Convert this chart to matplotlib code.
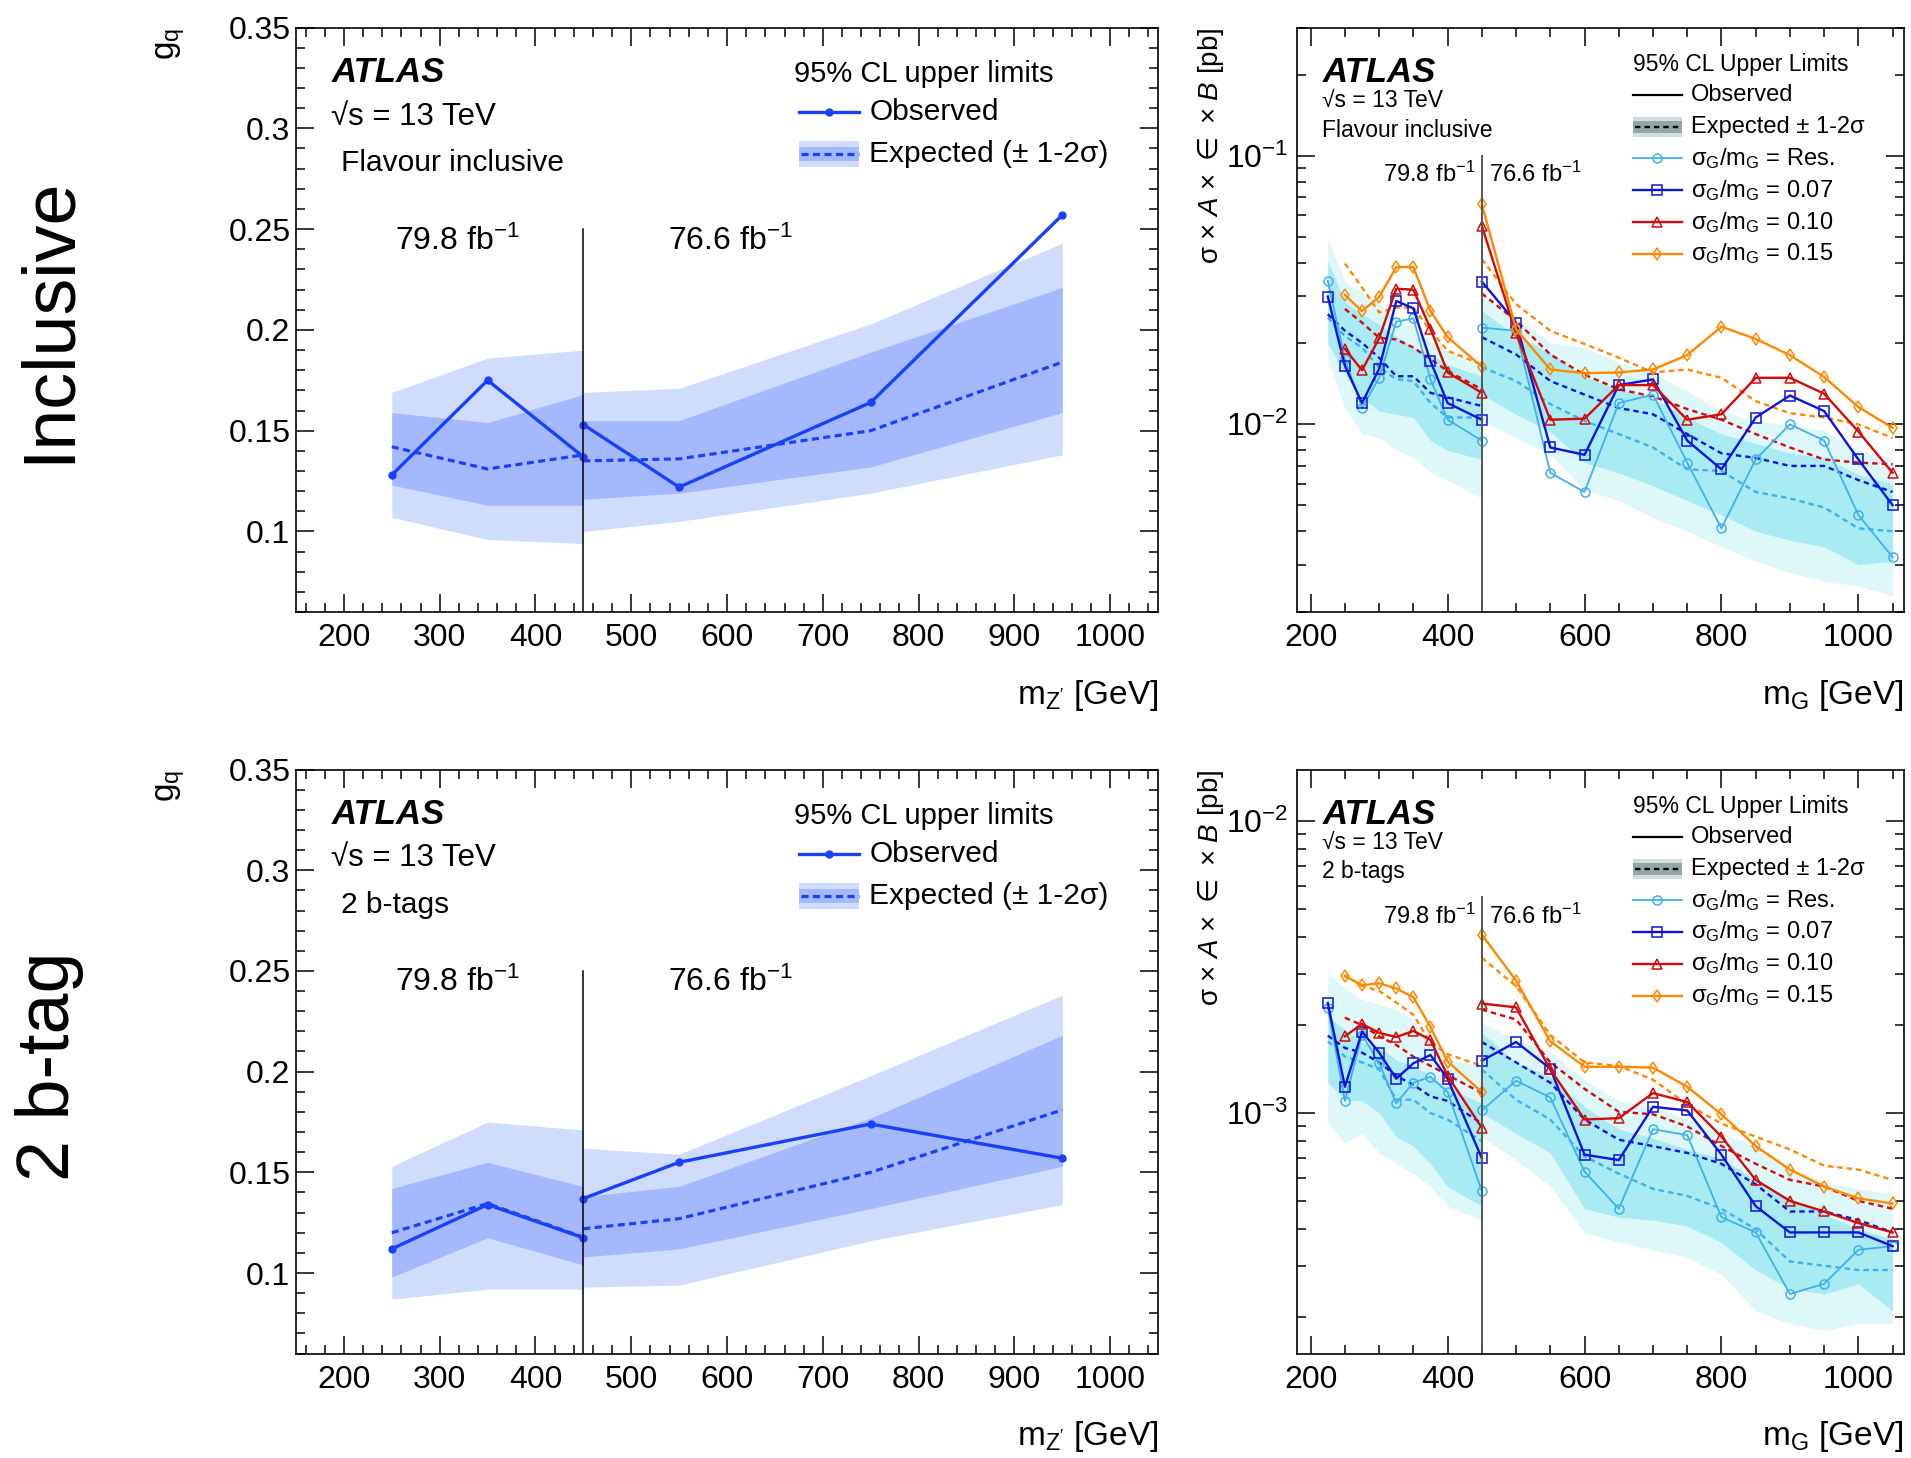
import matplotlib
matplotlib.use('Agg')
import matplotlib.pyplot as plt
from matplotlib.lines import Line2D
from matplotlib.patches import Rectangle
from matplotlib.ticker import MultipleLocator, LogLocator, NullFormatter, FuncFormatter

plt.rcParams['font.family'] = ['Liberation Sans', 'DejaVu Sans']
plt.rcParams['mathtext.fontset'] = 'custom'
plt.rcParams['mathtext.rm'] = 'Liberation Sans'
plt.rcParams['mathtext.it'] = 'Liberation Sans:italic'
plt.rcParams['mathtext.bf'] = 'Liberation Sans:bold'
plt.rcParams['mathtext.sf'] = 'DejaVu Sans'

# ---------------- Z' coupling limits (left column) ----------------
zq_x_lo = [250, 350, 450]
zq_x_hi = [450, 550, 750, 950]

# flavour inclusive
incl_obs_lo = [0.128, 0.175, 0.137]
incl_obs_hi = [0.153, 0.122, 0.164, 0.257]
incl_exp_lo = [0.142, 0.131, 0.138]
incl_exp_hi = [0.135, 0.136, 0.150, 0.184]
incl_m2_lo = [0.107, 0.096, 0.094]
incl_m1_lo = [0.123, 0.113, 0.113]
incl_p1_lo = [0.159, 0.154, 0.168]
incl_p2_lo = [0.169, 0.186, 0.190]
incl_m2_hi = [0.100, 0.105, 0.119, 0.138]
incl_m1_hi = [0.116, 0.119, 0.132, 0.159]
incl_p1_hi = [0.155, 0.155, 0.189, 0.221]
incl_p2_hi = [0.169, 0.171, 0.203, 0.243]

# 2 b-tags
btag_obs_lo = [0.112, 0.134, 0.1175]
btag_obs_hi = [0.137, 0.155, 0.174, 0.157]
btag_exp_lo = [0.120, 0.1345, 0.1178]
btag_exp_hi = [0.122, 0.127, 0.150, 0.181]
btag_m2_lo = [0.087, 0.092, 0.092]
btag_m1_lo = [0.098, 0.1175, 0.104]
btag_p1_lo = [0.142, 0.155, 0.143]
btag_p2_lo = [0.153, 0.175, 0.171]
btag_m2_hi = [0.093, 0.094, 0.116, 0.134]
btag_m1_hi = [0.108, 0.112, 0.132, 0.153]
btag_p1_hi = [0.138, 0.143, 0.177, 0.218]
btag_p2_hi = [0.162, 0.159, 0.198, 0.238]

# ---------------- Gaussian cross-section limits (right column) ----------------
g_x_lo = [225, 250, 275, 300, 325, 350, 375, 400, 450]
g_x_hi = [450, 500, 550, 600, 650, 700, 750, 800, 850, 900, 950, 1000, 1050]

# flavour inclusive [pb]
incl_res_obs_lo = [0.0342, 0.0175, 0.0115, 0.0149, 0.0241, 0.0248, 0.0147, 0.0104, 0.0087]
incl_res_obs_hi = [0.0229, 0.0223, 0.0066, 0.0056, 0.0120, 0.0129, 0.0072, 0.0041, 0.0074, 0.0100, 0.0087, 0.0046, 0.0032]
incl_res_exp_lo = [0.0250, 0.0213, 0.0193, 0.0163, 0.0147, 0.0145, 0.0120, 0.0106, 0.0106]
incl_res_exp_hi = [0.0163, 0.0145, 0.0119, 0.0103, 0.0092, 0.0082, 0.0068, 0.0067, 0.0056, 0.0053, 0.0049, 0.0041, 0.0040]
incl_res_p1_lo = [0.0406, 0.0284, 0.0257, 0.0236, 0.0213, 0.0193, 0.0182, 0.0167, 0.0151]
incl_res_m1_lo = [0.0200, 0.0154, 0.0126, 0.0112, 0.0109, 0.0106, 0.0087, 0.0080, 0.0074]
incl_res_p2_lo = [0.0497, 0.0337, 0.0310, 0.0280, 0.0249, 0.0229, 0.0204, 0.0188, 0.0167]
incl_res_m2_lo = [0.0177, 0.0115, 0.0092, 0.0089, 0.0080, 0.0076, 0.0066, 0.0062, 0.0053]
incl_res_p1_hi = [0.0265, 0.0213, 0.0185, 0.0150, 0.0135, 0.0125, 0.0106, 0.0092, 0.0085, 0.0078, 0.0075, 0.0065, 0.0060]
incl_res_m1_hi = [0.0129, 0.0109, 0.0094, 0.0072, 0.0066, 0.0059, 0.0052, 0.0046, 0.0040, 0.0037, 0.0035, 0.0030, 0.0031]
incl_res_p2_hi = [0.0301, 0.0249, 0.0201, 0.0193, 0.0170, 0.0155, 0.0133, 0.0112, 0.0103, 0.0099, 0.0095, 0.0080, 0.0075]
incl_res_m2_hi = [0.0103, 0.0089, 0.0077, 0.0057, 0.0052, 0.0045, 0.0040, 0.0035, 0.0031, 0.0028, 0.0026, 0.0025, 0.0023]

incl_007_obs_lo = [0.0299, 0.0165, 0.0120, 0.0161, 0.0288, 0.0270, 0.0172, 0.0120, 0.0104]
incl_007_obs_hi = [0.0340, 0.0239, 0.0082, 0.0077, 0.0140, 0.0147, 0.0087, 0.0068, 0.0106, 0.0128, 0.0112, 0.0074, 0.0050]
incl_007_exp_lo = [0.0257, 0.0223, 0.0201, 0.0177, 0.0151, 0.0151, 0.0131, 0.0126, 0.0117]
incl_007_exp_hi = [0.0211, 0.0182, 0.0145, 0.0129, 0.0115, 0.0109, 0.0092, 0.0078, 0.0075, 0.0070, 0.0070, 0.0062, 0.0056]

incl_010_obs_lo = [0.0191, 0.0159, 0.0209, 0.0320, 0.0317, 0.0227, 0.0156, 0.0131]
incl_010_obs_hi = [0.0548, 0.0218, 0.0104, 0.0105, 0.0140, 0.0140, 0.0104, 0.0109, 0.0149, 0.0149, 0.0130, 0.0094, 0.0066]
incl_010_exp_lo = [0.0269, 0.0239, 0.0210, 0.0207, 0.0193, 0.0175, 0.0158, 0.0135]
incl_010_exp_hi = [0.0307, 0.0243, 0.0182, 0.0153, 0.0135, 0.0127, 0.0114, 0.0104, 0.0092, 0.0082, 0.0074, 0.0072, 0.0071]

incl_015_obs_lo = [0.0303, 0.0264, 0.0298, 0.0385, 0.0385, 0.0264, 0.0211, 0.0164]
incl_015_obs_hi = [0.0660, 0.0226, 0.0160, 0.0155, 0.0156, 0.0160, 0.0181, 0.0231, 0.0208, 0.0181, 0.0150, 0.0116, 0.0097]
incl_015_exp_lo = [0.0397, 0.0323, 0.0261, 0.0272, 0.0272, 0.0223, 0.0188, 0.0167]
incl_015_exp_hi = [0.0412, 0.0280, 0.0223, 0.0199, 0.0177, 0.0156, 0.0160, 0.0149, 0.0122, 0.0110, 0.0106, 0.0100, 0.0089]

# 2 b-tags [pb]
btag_res_obs_lo = [0.00229, 0.00110, 0.00185, 0.00148, 0.00108, 0.00127, 0.00133, 0.00118, 0.00054]
btag_res_obs_hi = [0.00102, 0.00129, 0.00113, 0.00063, 0.00047, 0.00088, 0.00084, 0.00044, 0.00039, 0.00024, 0.00026, 0.00034, 0.00035]
btag_res_exp_lo = [0.00176, 0.00156, 0.00149, 0.00141, 0.00111, 0.00111, 0.00100, 0.00095, 0.00080]
btag_res_exp_hi = [0.00141, 0.00111, 0.00095, 0.00071, 0.00062, 0.00055, 0.00052, 0.00047, 0.00040, 0.00031, 0.00030, 0.00029, 0.00029]
btag_res_p1_lo = [0.00214, 0.00193, 0.00174, 0.00169, 0.00152, 0.00145, 0.00134, 0.00122, 0.00108]
btag_res_m1_lo = [0.00127, 0.00111, 0.00110, 0.00100, 0.00083, 0.00077, 0.00067, 0.00056, 0.00048]
btag_res_p2_lo = [0.00302, 0.00266, 0.00245, 0.00235, 0.00226, 0.00209, 0.00178, 0.00152, 0.00145]
btag_res_m2_lo = [0.00092, 0.00079, 0.00085, 0.00073, 0.00067, 0.00062, 0.00056, 0.00048, 0.00043]
btag_res_p1_hi = [0.00188, 0.00149, 0.00133, 0.00105, 0.00088, 0.00082, 0.00075, 0.00070, 0.00059, 0.00051, 0.00045, 0.00040, 0.00037]
btag_res_m1_hi = [0.00100, 0.00085, 0.00073, 0.00047, 0.00044, 0.00043, 0.00041, 0.00036, 0.00029, 0.00025, 0.00024, 0.00026, 0.00021]
btag_res_p2_hi = [0.00204, 0.00178, 0.00162, 0.00130, 0.00110, 0.00105, 0.00095, 0.00085, 0.00078, 0.00065, 0.00058, 0.00055, 0.00053]
btag_res_m2_hi = [0.00083, 0.00069, 0.00056, 0.00039, 0.00036, 0.00034, 0.00032, 0.00028, 0.00021, 0.00019, 0.00018, 0.00019, 0.00019]

btag_007_obs_lo = [0.00238, 0.00123, 0.00190, 0.00161, 0.00131, 0.00148, 0.00158, 0.00131, 0.00070]
btag_007_obs_hi = [0.00151, 0.00175, 0.00142, 0.00072, 0.00069, 0.00105, 0.00102, 0.00072, 0.00048, 0.00039, 0.00039, 0.00039, 0.00035]
btag_007_exp_lo = [0.00184, 0.00167, 0.00161, 0.00149, 0.00134, 0.00125, 0.00114, 0.00110, 0.00092]
btag_007_exp_hi = [0.00175, 0.00149, 0.00127, 0.00095, 0.00081, 0.00077, 0.00073, 0.00067, 0.00057, 0.00046, 0.00046, 0.00043, 0.00039]

btag_010_obs_lo = [0.00183, 0.00202, 0.00188, 0.00182, 0.00191, 0.00178, 0.00134, 0.00089]
btag_010_obs_hi = [0.00237, 0.00230, 0.00141, 0.00095, 0.00096, 0.00117, 0.00109, 0.00083, 0.00059, 0.00050, 0.00046, 0.00042, 0.00039]
btag_010_exp_lo = [0.00212, 0.00200, 0.00183, 0.00171, 0.00156, 0.00145, 0.00135, 0.00117]
btag_010_exp_hi = [0.00226, 0.00209, 0.00149, 0.00121, 0.00101, 0.00099, 0.00090, 0.00077, 0.00067, 0.00059, 0.00056, 0.00050, 0.00047]

btag_015_obs_lo = [0.00294, 0.00274, 0.00278, 0.00267, 0.00249, 0.00197, 0.00150, 0.00118]
btag_015_obs_hi = [0.00408, 0.00284, 0.00176, 0.00144, 0.00144, 0.00143, 0.00123, 0.00099, 0.00077, 0.00064, 0.00056, 0.00051, 0.00049]
btag_015_exp_lo = [0.00297, 0.00272, 0.00262, 0.00239, 0.00217, 0.00174, 0.00159, 0.00145]
btag_015_exp_hi = [0.00340, 0.00272, 0.00185, 0.00149, 0.00145, 0.00130, 0.00107, 0.00092, 0.00083, 0.00075, 0.00066, 0.00064, 0.00059]

# colours
c_zobs = '#1a40fc'
c_z1s = '#a4b9fd'
c_z2s = '#d0dcfd'
c_res = '#3fb0ee'
c_007 = '#0a14dc'
c_010 = '#d40a0a'
c_015 = '#ff8800'
c_g1s = '#a9ebf2'
c_g2s = '#def7f9'


def root_style(ax):
    ax.tick_params(which='both', direction='in', top=True, right=True, width=1.1, labelsize=23)
    ax.tick_params(which='major', length=13)
    ax.tick_params(which='minor', length=6.5)
    ax.tick_params(axis='x', pad=8)
    ax.tick_params(axis='y', pad=4)
    for s in ax.spines.values():
        s.set_linewidth(1.2)


def draw_gq(ax, obs_lo, obs_hi, exp_lo, exp_hi, m2_lo, m1_lo, p1_lo, p2_lo,
            m2_hi, m1_hi, p1_hi, p2_hi, tag):
    ax.fill_between(zq_x_lo, m2_lo, p2_lo, color=c_z2s, lw=0)
    ax.fill_between(zq_x_hi, m2_hi, p2_hi, color=c_z2s, lw=0)
    ax.fill_between(zq_x_lo, m1_lo, p1_lo, color=c_z1s, lw=0)
    ax.fill_between(zq_x_hi, m1_hi, p1_hi, color=c_z1s, lw=0)
    for xs, ys in [(zq_x_lo, exp_lo), (zq_x_hi, exp_hi)]:
        ax.plot(xs, ys, color=c_zobs, lw=2.3, dashes=(2.2, 1.4))
    for xs, ys in [(zq_x_lo, obs_lo), (zq_x_hi, obs_hi)]:
        ax.plot(xs, ys, color=c_zobs, lw=2.4, marker='o', ms=5)
    ax.plot([450, 450], [0.06, 0.25], color='k', lw=1.1)

    ax.set_xlim(150, 1050)
    ax.set_ylim(0.06, 0.35)
    ax.xaxis.set_major_locator(MultipleLocator(100))
    ax.xaxis.set_minor_locator(MultipleLocator(20))
    ax.yaxis.set_major_locator(MultipleLocator(0.05))
    ax.yaxis.set_minor_locator(MultipleLocator(0.01))
    ax.yaxis.set_major_formatter(FuncFormatter(lambda v, p: '%g' % round(v, 3)))
    root_style(ax)

    tr = ax.transAxes
    ax.text(0.041, 0.907, 'ATLAS', transform=tr, fontsize=25, fontweight='bold', fontstyle='italic')
    ax.text(0.041, 0.834, '√s = 13 TeV', transform=tr, fontsize=22.5)
    ax.text(0.052, 0.755, tag, transform=tr, fontsize=21.5)
    ax.text(0.578, 0.907, '95% CL upper limits', transform=tr, fontsize=21)
    # legend
    ax.add_line(Line2D([0.584, 0.653], [0.855, 0.855], transform=tr, color=c_zobs, lw=2.4))
    ax.add_line(Line2D([0.6185], [0.855], transform=tr, color=c_zobs, marker='o', ms=5))
    ax.text(0.665, 0.855, 'Observed', transform=tr, fontsize=21.5, va='center')
    ax.add_patch(Rectangle((0.584, 0.762), 0.069, 0.044, transform=tr, color=c_z2s, lw=0))
    ax.add_patch(Rectangle((0.584, 0.772), 0.069, 0.024, transform=tr, color=c_z1s, lw=0))
    ax.add_line(Line2D([0.586, 0.653], [0.784, 0.784], transform=tr, color=c_zobs, lw=2.3, dashes=(2.2, 1.4)))
    ax.text(0.665, 0.784, 'Expected (± 1-2σ)', transform=tr, fontsize=21.5, va='center')
    ax.text(0.115, 0.620, '79.8 fb$^{-1}$', transform=tr, fontsize=23)
    ax.text(0.431, 0.620, '76.6 fb$^{-1}$', transform=tr, fontsize=23)

    ax.text(1.0, -0.157, "m$_{\\mathregular{Z'}}$ [GeV]", transform=tr, fontsize=24, ha='right', va='baseline')
    ax.text(-0.1455, 1.0, 'g$_{\\mathregular{q}}$', transform=tr, fontsize=24, rotation=90,
            ha='center', va='top')


def draw_g(ax, bands, series, ylim, ytop, tag):
    x_lo_p, x_hi_p = bands
    for xs, m2, p2, m1, p1 in [x_lo_p, x_hi_p]:
        ax.fill_between(xs, m2, p2, color=c_g2s, lw=0)
    for xs, m2, p2, m1, p1 in [x_lo_p, x_hi_p]:
        ax.fill_between(xs, m1, p1, color=c_g1s, lw=0)
    for color, marker, lw, xlo, obs_lo, exp_lo, obs_hi, exp_hi in series:
        ax.plot(xlo, exp_lo, color=color, lw=1.7, dashes=(2.3, 1.7))
        ax.plot(g_x_hi, exp_hi, color=color, lw=1.7, dashes=(2.3, 1.7))
    for color, marker, lw, xlo, obs_lo, exp_lo, obs_hi, exp_hi in series:
        for xs, ys in [(xlo, obs_lo), (g_x_hi, obs_hi)]:
            ax.plot(xs, ys, color=color, lw=lw, marker=marker, ms=6.5, mfc='none', mew=1.1)
    ax.plot([450, 450], [ylim[0], ytop], color='#555555', lw=1.4)

    ax.set_yscale('log')
    ax.set_xlim(180, 1066)
    ax.set_ylim(*ylim)
    ax.xaxis.set_major_locator(MultipleLocator(200))
    ax.xaxis.set_minor_locator(MultipleLocator(50))
    ax.yaxis.set_major_locator(LogLocator(base=10))
    ax.yaxis.set_minor_locator(LogLocator(base=10, subs=range(2, 10)))
    ax.yaxis.set_minor_formatter(NullFormatter())
    root_style(ax)
    ax.tick_params(axis='y', pad=6)

    tr = ax.transAxes
    ax.text(0.042, 0.907, 'ATLAS', transform=tr, fontsize=25, fontweight='bold', fontstyle='italic')
    ax.text(0.042, 0.864, '√s = 13 TeV', transform=tr, fontsize=16.5)
    ax.text(0.042, 0.8135, tag, transform=tr, fontsize=16.5)
    ax.text(0.554, 0.926, '95% CL Upper Limits', transform=tr, fontsize=16.5)
    x0, x1, xt = 0.554, 0.634, 0.650
    xm = 0.5 * (x0 + x1)
    ax.add_line(Line2D([x0, x1], [0.884, 0.884], transform=tr, color='k', lw=1.6))
    ax.text(xt, 0.884, 'Observed', transform=tr, fontsize=17, va='center')
    ax.add_patch(Rectangle((x0, 0.813), x1 - x0, 0.034, transform=tr, color='#d3dddd', lw=0))
    ax.add_patch(Rectangle((x0, 0.820), x1 - x0, 0.020, transform=tr, color='#93a6a6', lw=0))
    ax.add_line(Line2D([x0 + 0.004, x1], [0.830, 0.830], transform=tr, color='k', lw=1.7, dashes=(2.3, 1.7)))
    ax.text(xt, 0.830, 'Expected ± 1-2σ', transform=tr, fontsize=17, va='center')
    labels = ['Res.', '0.07', '0.10', '0.15']
    ys = [0.776, 0.722, 0.667, 0.613]
    for (color, marker, lw, *_), lab, y in zip(series, labels, ys):
        ax.add_line(Line2D([x0, x1], [y, y], transform=tr, color=color, lw=lw))
        ax.add_line(Line2D([xm], [y], transform=tr, color=color, marker=marker, ms=6.5, mfc='none', mew=1.1))
        ax.text(xt, y, 'σ$_\\mathregular{G}$/m$_\\mathregular{G}$ = ' + lab, transform=tr, fontsize=17, va='center')
    ax.text(0.295, 0.736, '79.8 fb$^{-1}$', transform=tr, fontsize=17, ha='right')
    ax.text(0.317, 0.736, '76.6 fb$^{-1}$', transform=tr, fontsize=17)

    ax.text(1.0, -0.157, 'm$_\\mathregular{G}$ [GeV]', transform=tr, fontsize=24, ha='right', va='baseline')
    ax.text(-0.141, 1.0, 'σ × $\\mathit{A}$ × $\\mathsf{\\in}$ × $\\mathit{B}$ [pb]', transform=tr,
            fontsize=20, rotation=90, ha='center', va='top')


fig = plt.figure(figsize=(19.11, 14.58), dpi=100)
ax_tl = fig.add_axes([0.1549, 0.5802, 0.4511, 0.4009])
ax_bl = fig.add_axes([0.1549, 0.0716, 0.4511, 0.4006])
ax_tr = fig.add_axes([0.6787, 0.5802, 0.3174, 0.4009])
ax_br = fig.add_axes([0.6787, 0.0716, 0.3174, 0.4006])

draw_gq(ax_tl, incl_obs_lo, incl_obs_hi, incl_exp_lo, incl_exp_hi,
        incl_m2_lo, incl_m1_lo, incl_p1_lo, incl_p2_lo,
        incl_m2_hi, incl_m1_hi, incl_p1_hi, incl_p2_hi, 'Flavour inclusive')
draw_gq(ax_bl, btag_obs_lo, btag_obs_hi, btag_exp_lo, btag_exp_hi,
        btag_m2_lo, btag_m1_lo, btag_p1_lo, btag_p2_lo,
        btag_m2_hi, btag_m1_hi, btag_p1_hi, btag_p2_hi, '2 b-tags')

incl_series = [
    (c_res, 'o', 1.3, g_x_lo, incl_res_obs_lo, incl_res_exp_lo, incl_res_obs_hi, incl_res_exp_hi),
    (c_007, 's', 1.7, g_x_lo, incl_007_obs_lo, incl_007_exp_lo, incl_007_obs_hi, incl_007_exp_hi),
    (c_010, '^', 1.7, g_x_lo[1:], incl_010_obs_lo, incl_010_exp_lo, incl_010_obs_hi, incl_010_exp_hi),
    (c_015, 'd', 1.7, g_x_lo[1:], incl_015_obs_lo, incl_015_exp_lo, incl_015_obs_hi, incl_015_exp_hi),
]
incl_bands = ((g_x_lo, incl_res_m2_lo, incl_res_p2_lo, incl_res_m1_lo, incl_res_p1_lo),
              (g_x_hi, incl_res_m2_hi, incl_res_p2_hi, incl_res_m1_hi, incl_res_p1_hi))
draw_g(ax_tr, incl_bands, incl_series, (0.002, 0.3), 0.1, 'Flavour inclusive')

btag_series = [
    (c_res, 'o', 1.3, g_x_lo, btag_res_obs_lo, btag_res_exp_lo, btag_res_obs_hi, btag_res_exp_hi),
    (c_007, 's', 1.7, g_x_lo, btag_007_obs_lo, btag_007_exp_lo, btag_007_obs_hi, btag_007_exp_hi),
    (c_010, '^', 1.7, g_x_lo[1:], btag_010_obs_lo, btag_010_exp_lo, btag_010_obs_hi, btag_010_exp_hi),
    (c_015, 'd', 1.7, g_x_lo[1:], btag_015_obs_lo, btag_015_exp_lo, btag_015_obs_hi, btag_015_exp_hi),
]
btag_bands = ((g_x_lo, btag_res_m2_lo, btag_res_p2_lo, btag_res_m1_lo, btag_res_p1_lo),
              (g_x_hi, btag_res_m2_hi, btag_res_p2_hi, btag_res_m1_hi, btag_res_p1_hi))
draw_g(ax_br, btag_bands, btag_series, (1.5e-4, 0.015), 0.0055, '2 b-tags')

# row labels
fig.text(0.026, 0.781, 'Inclusive', fontsize=53, rotation=90, ha='center', va='center')
fig.text(0.026, 0.269, '2 b-tag', fontsize=53, rotation=90, ha='center', va='center')

fig.savefig('out.png', dpi=100)
